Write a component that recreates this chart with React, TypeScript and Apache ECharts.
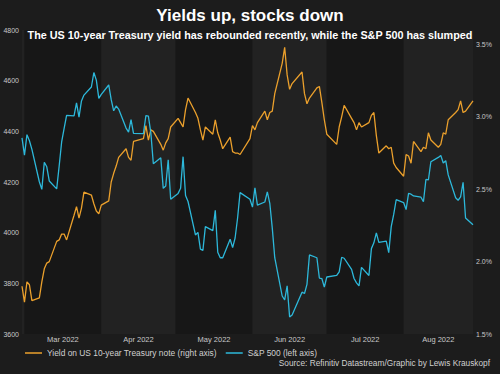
import React, { useEffect, useRef } from "react";
import * as echarts from "echarts";

const dates: string[] = [
  "2022-02-28","2022-03-01","2022-03-02","2022-03-03","2022-03-04","2022-03-07","2022-03-08","2022-03-09","2022-03-10","2022-03-11",
  "2022-03-14","2022-03-15","2022-03-16","2022-03-17","2022-03-18","2022-03-21","2022-03-22","2022-03-23","2022-03-24","2022-03-25",
  "2022-03-28","2022-03-29","2022-03-30","2022-03-31","2022-04-01","2022-04-04","2022-04-05","2022-04-06","2022-04-07","2022-04-08",
  "2022-04-11","2022-04-12","2022-04-13","2022-04-14","2022-04-18","2022-04-19","2022-04-20","2022-04-21","2022-04-22","2022-04-25",
  "2022-04-26","2022-04-27","2022-04-28","2022-04-29","2022-05-02","2022-05-03","2022-05-04","2022-05-05","2022-05-06","2022-05-09",
  "2022-05-10","2022-05-11","2022-05-12","2022-05-13","2022-05-16","2022-05-17","2022-05-18","2022-05-19","2022-05-20","2022-05-23",
  "2022-05-24","2022-05-25","2022-05-26","2022-05-27","2022-05-31","2022-06-01","2022-06-02","2022-06-03","2022-06-06","2022-06-07",
  "2022-06-08","2022-06-09","2022-06-10","2022-06-13","2022-06-14","2022-06-15","2022-06-16","2022-06-17","2022-06-21","2022-06-22",
  "2022-06-23","2022-06-24","2022-06-27","2022-06-28","2022-06-29","2022-06-30","2022-07-01","2022-07-05","2022-07-06","2022-07-07",
  "2022-07-08","2022-07-11","2022-07-12","2022-07-13","2022-07-14","2022-07-15","2022-07-18","2022-07-19","2022-07-20","2022-07-21",
  "2022-07-22","2022-07-25","2022-07-26","2022-07-27","2022-07-28","2022-07-29","2022-08-01","2022-08-02","2022-08-03","2022-08-04",
  "2022-08-05","2022-08-08","2022-08-09","2022-08-10","2022-08-11","2022-08-12","2022-08-15","2022-08-16","2022-08-17","2022-08-18",
  "2022-08-19","2022-08-22","2022-08-23","2022-08-24","2022-08-25","2022-08-26","2022-08-29",
];

const spx: number[] = [
  4374,4306,4387,4363,4329,4201,4171,4278,4260,4204,
  4173,4263,4358,4412,4463,4461,4512,4456,4520,4543,
  4575,4632,4602,4530,4546,4583,4525,4481,4500,4488,
  4413,4397,4446,4392,4391,4462,4460,4394,4272,4296,
  4175,4184,4288,4132,4155,4175,4300,4147,4123,3991,
  4001,3935,3930,4024,4008,4088,3923,3901,3901,3974,
  3941,3979,4058,4158,4132,4101,4177,4109,4121,4161,
  4116,4018,3901,3750,3735,3790,3667,3675,3765,3760,
  3796,3912,3901,3821,3819,3785,3825,3831,3845,3903,
  3899,3855,3819,3802,3790,3863,3831,3937,3960,3999,
  3962,3967,3921,4024,4072,4130,4119,4091,4155,4152,
  4145,4140,4122,4210,4208,4280,4297,4305,4275,4284,
  4228,4138,4128,4141,4199,4058,4031,
];

const yields: number[] = [
  1.83,1.72,1.86,1.84,1.73,1.75,1.86,1.95,1.99,2.00,
  2.14,2.15,2.19,2.19,2.15,2.32,2.38,2.30,2.37,2.48,
  2.46,2.40,2.35,2.33,2.39,2.42,2.55,2.61,2.66,2.72,
  2.78,2.72,2.70,2.83,2.85,2.94,2.84,2.91,2.90,2.81,
  2.77,2.82,2.85,2.93,2.99,2.96,2.93,3.05,3.13,3.03,
  2.99,2.91,2.84,2.93,2.88,2.98,2.89,2.84,2.78,2.86,
  2.76,2.75,2.75,2.74,2.85,2.94,2.91,2.96,3.04,2.98,
  3.03,3.04,3.16,3.37,3.48,3.29,3.19,3.23,3.31,3.16,
  3.09,3.13,3.20,3.21,3.10,2.98,2.88,2.81,2.93,3.00,
  3.08,2.99,2.96,2.91,2.96,2.93,2.96,3.01,3.03,2.87,
  2.75,2.80,2.78,2.79,2.68,2.65,2.59,2.74,2.73,2.68,
  2.83,2.76,2.79,2.78,2.89,2.84,2.79,2.81,2.89,2.88,
  2.98,3.03,3.05,3.11,3.03,3.04,3.11,
];

const monthStarts: string[] = ["2022-02-28","2022-03-01","2022-04-01","2022-05-01","2022-06-01","2022-07-01","2022-08-01","2022-08-29"];
const monthLabels: string[] = ["", "Mar 2022", "Apr 2022", "May 2022", "Jun 2022", "Jul 2022", "Aug 2022"];

const TITLE = "Yields up, stocks down";
const SUBTITLE = "The US 10-year Treasury yield has rebounded recently, while the S&P 500 has slumped";
const YIELD_NAME = "Yield on US 10-year Treasury note (right axis)";
const SPX_NAME = "S&P 500 (left axis)";
const SOURCE = "Source: Refinitiv Datastream/Graphic by Lewis Krauskopf";

const FONT = "Liberation Sans, Arial, sans-serif";
const ORANGE = "#eba02c";
const BLUE = "#2db8da";

export default function App() {
  const ref = useRef<HTMLDivElement>(null);
  useEffect(() => {
    if (!ref.current) return;
    const chart = echarts.init(ref.current, undefined, { renderer: "svg" });
    const bands = monthLabels.map((lab, i) => [
      {
        xAxis: monthStarts[i],
        itemStyle: { color: i % 2 === 0 ? "#222222" : "#171717" },
        label: {
          show: lab !== "",
          position: "bottom",
          distance: 1,
          color: "#c8c8c8",
          fontSize: 7.5,
          fontFamily: FONT,
        },
        name: lab,
      },
      { xAxis: monthStarts[i + 1] },
    ]);
    chart.setOption({
      animation: false,
      backgroundColor: "#1c1c1c",
      textStyle: { fontFamily: FONT },
      title: [
        {
          text: TITLE,
          left: "center",
          top: 2,
          textStyle: { color: "#ffffff", fontSize: 17, fontWeight: "bold", fontFamily: FONT },
        },
        {
          text: SUBTITLE,
          left: "center",
          top: 24,
          textStyle: { color: "#ffffff", fontSize: 10.8, fontWeight: "bold", fontFamily: FONT },
        },
      ],
      legend: {
        left: 25,
        top: 349,
        padding: 0,
        icon: "rect",
        itemWidth: 17,
        itemHeight: 1.5,
        itemGap: 9,
        textStyle: { color: "#d0d0d0", fontSize: 8.4, fontFamily: FONT },
        data: [YIELD_NAME, SPX_NAME],
      },
      graphic: [
        {
          type: "text",
          right: 10,
          top: 359,
          style: { text: SOURCE, fill: "#d0d0d0", fontSize: 8.3, fontFamily: FONT },
        },
      ],
      grid: { left: 22, right: 27, top: 30, bottom: 40 },
      xAxis: {
        type: "time",
        min: "2022-02-28",
        max: "2022-08-29",
        axisLabel: { show: false },
        axisLine: { show: false },
        axisTick: { show: false },
        splitLine: { show: false },
      },
      yAxis: [
        {
          type: "value",
          min: 3600,
          max: 4800,
          interval: 200,
          position: "left",
          axisLabel: {
            color: "#c8c8c8",
            fontSize: 7,
            margin: 3,
            fontFamily: FONT,
            formatter: (v: number) => String(v),
          },
          axisLine: { show: false },
          axisTick: { show: false },
          splitLine: { show: false },
        },
        {
          type: "value",
          min: 1.5,
          max: 3.6,
          interval: 0.5,
          position: "right",
          axisLabel: {
            color: "#c8c8c8",
            fontSize: 7,
            margin: 3,
            fontFamily: FONT,
            showMaxLabel: false,
            formatter: (v: number) => v.toFixed(1) + "%",
          },
          axisLine: { show: false },
          axisTick: { show: false },
          splitLine: { show: false },
        },
      ],
      series: [
        {
          name: YIELD_NAME,
          type: "line",
          yAxisIndex: 1,
          showSymbol: false,
          symbol: "none",
          lineStyle: { color: ORANGE, width: 1.3 },
          itemStyle: { color: ORANGE },
          data: dates.map((d, i) => [d, yields[i]]),
          z: 3,
        },
        {
          name: SPX_NAME,
          type: "line",
          yAxisIndex: 0,
          showSymbol: false,
          symbol: "none",
          lineStyle: { color: BLUE, width: 1.3 },
          itemStyle: { color: BLUE },
          data: dates.map((d, i) => [d, spx[i]]),
          z: 3,
          markArea: { silent: true, data: bands },
        },
      ],
    });
    return () => chart.dispose();
  }, []);
  return (
    <div
      ref={ref}
      style={{ position: "fixed", left: 0, top: 0, width: 500, height: 374 }}
    />
  );
}
